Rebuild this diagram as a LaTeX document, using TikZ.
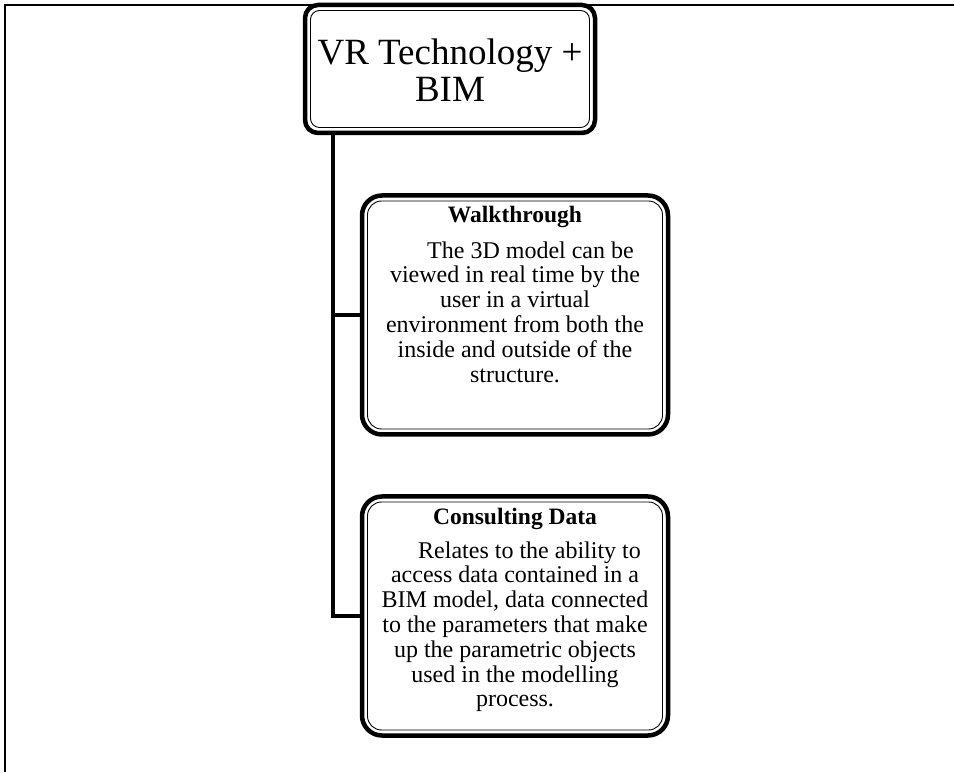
\documentclass[tikz,border=0pt]{standalone}
\usepackage{fontspec}
\setmainfont{Liberation Serif}
\begin{document}
\begin{tikzpicture}[x=1pt,y=1pt,
  frameline/.style={line width=2pt, line join=miter},
  bigbox/.style={draw, line width=4.5pt, rounded corners=13pt, fill=white,
    minimum width=290pt, minimum height=128pt, inner sep=0pt, outer sep=0pt},
  itembox/.style={draw, line width=4.5pt, rounded corners=20pt, fill=white,
    minimum width=306pt, minimum height=239pt, inner sep=0pt, outer sep=0pt},
  innerline/.style={line width=0.9pt, rounded corners=14pt},
  conn/.style={line width=4pt, line join=miter},
  toptext/.style={font=\fontsize{37}{37}\selectfont, align=center, inner sep=0pt, anchor=north},
  ttl/.style={font=\fontsize{23.5}{24.8}\selectfont\bfseries, inner sep=0pt, anchor=base},
  body/.style={font=\fontsize{24}{24.8}\selectfont, align=center, inner sep=0pt, anchor=north},
]
\useasboundingbox (0,0) rectangle (954,772);
\draw[frameline] (5,0) -- (5,767) -- (954,767);

% top box
\node[bigbox] (top) at (450,703) {};
\draw[innerline, rounded corners=9pt] ([shift={(5.5,5.5)}]top.south west) rectangle ([shift={(-5.5,-5.5)}]top.north east);
\node[toptext] (toptxt) at (450,733.9) {\strut VR Technology +\\BIM};

% walkthrough
\node[itembox] (walk) at (515,457) {};
\draw[innerline] ([shift={(5.5,5.5)}]walk.south west) rectangle ([shift={(-5.5,-5.5)}]walk.north east);
\node[ttl] (walkt) at (515,549) {Walkthrough};
\node[body] (walkb) at (515,531.4) {\strut\hspace*{31pt}The 3D model can be\\viewed in real time by the\\user in a virtual\\environment from both the\\inside and outside of the\\structure.};

% consulting data
\node[itembox] (cons) at (515,156) {};
\draw[innerline] ([shift={(5.5,5.5)}]cons.south west) rectangle ([shift={(-5.5,-5.5)}]cons.north east);
\node[ttl] (const) at (515,247) {Consulting Data};
\node[body] (consb) at (515,231.4) {\strut\hspace*{29pt}Relates to the ability to\\access data contained in a\\BIM model, data connected\\to the parameters that make\\up the parametric objects\\used in the modelling\\process.};

% connectors
\coordinate (trunk) at (333,0);
\draw[conn] (top.south -| trunk) |- (cons.west);
\draw[conn] (walk.west -| trunk) -- (walk.west);
\end{tikzpicture}
\end{document}
